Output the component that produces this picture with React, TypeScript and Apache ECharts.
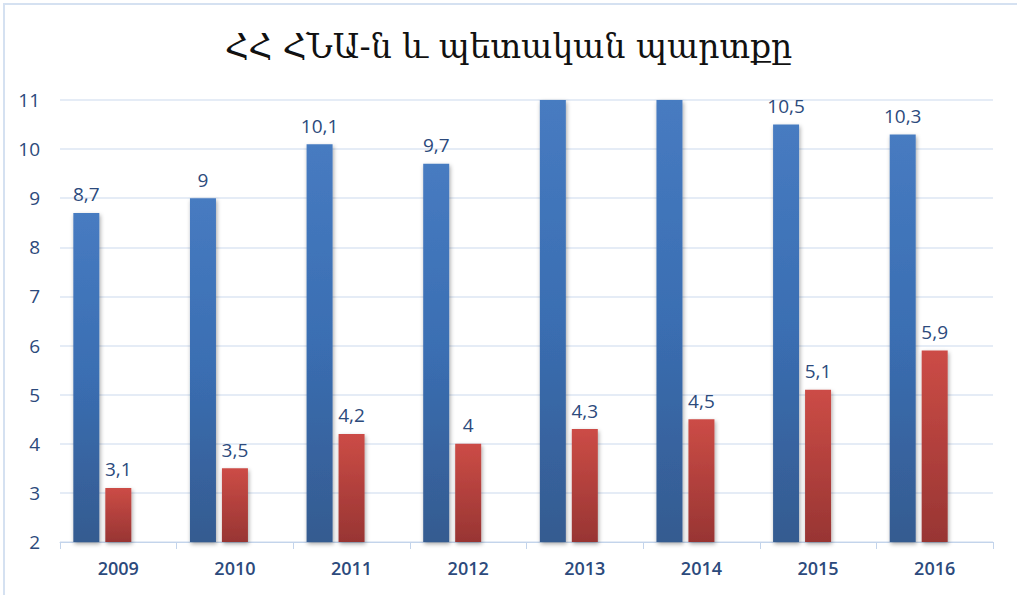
import React, { useEffect, useRef } from "react";
import * as echarts from "echarts";

const titleText = "ՀՀ ՀՆԱ-ն և պետական պարտքը";
const years = ["2009", "2010", "2011", "2012", "2013", "2014", "2015", "2016"];
const gdp = [8.7, 9, 10.1, 9.7, 11.1, 11.6, 10.5, 10.3];
const debt = [3.1, 3.5, 4.2, 4, 4.3, 4.5, 5.1, 5.9];
const yMin = 2;
const yMax = 11;

const labelColor = "#2C4A7C";

function fmt(v: number) {
  return String(v).replace(".", ",");
}

export default function App() {
  const ref = useRef<HTMLDivElement>(null);
  useEffect(() => {
    if (!ref.current) return;
    const chart = echarts.init(ref.current, null, { renderer: "svg" });
    const blueGrad = new echarts.graphic.LinearGradient(0, 0, 0, 1, [
      { offset: 0, color: "#477BC1" },
      { offset: 0.5, color: "#3A6EB2" },
      { offset: 1, color: "#355B90" },
    ]);
    const redGrad = new echarts.graphic.LinearGradient(0, 0, 0, 1, [
      { offset: 0, color: "#CC4C46" },
      { offset: 1, color: "#983533" },
    ]);
    const shadow = {
      shadowColor: "rgba(0,0,0,0.35)",
      shadowBlur: 4,
      shadowOffsetX: 1,
      shadowOffsetY: 2,
    };
    const label = {
      show: true,
      position: "top" as const,
      distance: 9,
      color: labelColor,
      fontSize: 19,
      fontFamily: "'Open Sans', sans-serif",
      formatter: (p: any) => fmt(p.value),
    };
    const mkData = (arr: number[]) =>
      arr.map((v) => (v > yMax ? { value: v, label: { show: false } } : v));
    chart.setOption({
      animation: false,
      title: {
        text: titleText,
        left: "center",
        top: 25,
        textStyle: {
          fontFamily: "'DejaVu Serif', serif",
          fontWeight: "normal",
          fontSize: 33,
          color: "#111",
        },
      },
      graphic: [
        {
          type: "rect",
          shape: { x: 4, y: 4, width: 1100, height: 1000 },
          style: { fill: "none", stroke: "#D5E1F1", lineWidth: 2 },
          silent: true,
        },
      ],
      grid: { left: 60, right: 24, top: 100, bottom: 53 },
      xAxis: {
        type: "category",
        data: years,
        axisLine: { lineStyle: { color: "#C3D4EB", width: 1 } },
        axisTick: { show: true, length: 7, lineStyle: { color: "#C3D4EB" } },
        axisLabel: {
          color: labelColor,
          fontSize: 18,
          fontWeight: 600,
          fontFamily: "'Open Sans', sans-serif",
          margin: 17,
        },
      },
      yAxis: {
        type: "value",
        min: yMin,
        max: yMax,
        interval: 1,
        axisLine: { show: false },
        axisTick: { show: false },
        splitLine: { lineStyle: { color: "#DCE6F3", width: 1.5 } },
        axisLabel: {
          color: labelColor,
          fontSize: 19,
          fontFamily: "'Open Sans', sans-serif",
          margin: 20,
        },
      },
      series: [
        {
          name: "ՀՆԱ",
          type: "bar",
          data: mkData(gdp),
          barWidth: 26,
          barGap: "23%",
          clip: true,
          itemStyle: { color: blueGrad, ...shadow },
          label,
        },
        {
          name: "Պետական պարտք",
          type: "bar",
          data: mkData(debt),
          barWidth: 26,
          barGap: "23%",
          itemStyle: { color: redGrad, ...shadow },
          label,
        },
        {
          name: "",
          type: "bar",
          data: years.map(() => null),
          barWidth: 26,
          barGap: "23%",
        },
      ],
    });
    return () => chart.dispose();
  }, []);
  return (
    <div
      ref={ref}
      style={{ position: "fixed", left: 0, top: 0, width: 1017, height: 595, background: "#fff" }}
    />
  );
}
